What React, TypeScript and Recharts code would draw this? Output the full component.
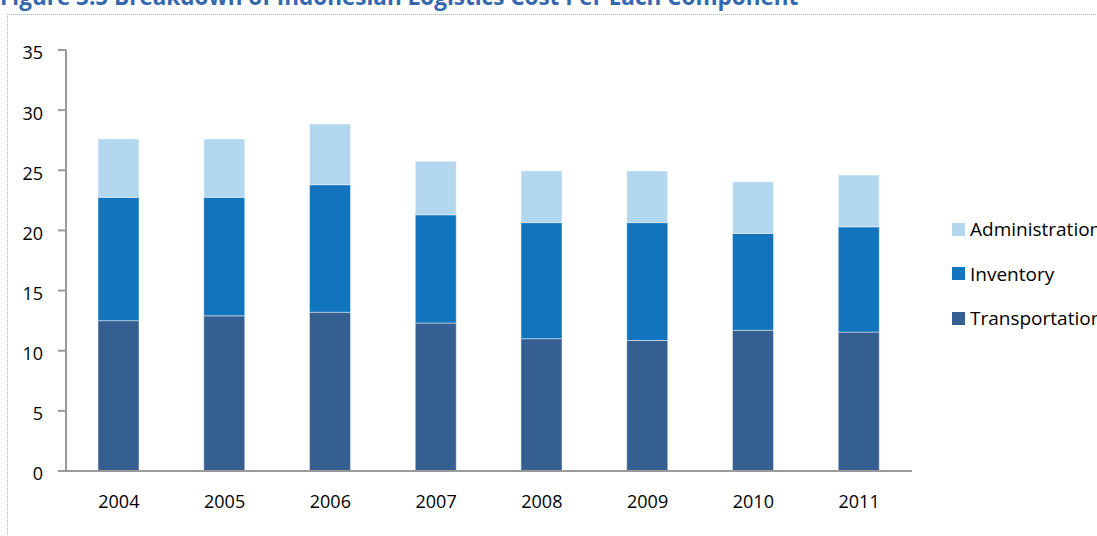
import React from "react";
import { BarChart, Bar, XAxis, YAxis } from "recharts";

const years = ["2004", "2005", "2006", "2007", "2008", "2009", "2010", "2011"];
const transportation = [12.5, 12.9, 13.2, 12.3, 11.0, 10.85, 11.7, 11.55];
const inventory = [10.25, 9.85, 10.6, 9.0, 9.65, 9.8, 8.05, 8.75];
const administration = [4.85, 4.85, 5.05, 4.45, 4.3, 4.3, 4.3, 4.3];
const yTicks = [0, 5, 10, 15, 20, 25, 30, 35];
const boundaryTicks = [0, 1, 2, 3, 4, 5, 6, 7, 8];

const seriesNames = ["Transportation", "Inventory", "Administration"];
const seriesColors = ["#355F91", "#1174BC", "#B3D7EE"];

const data = years.map((y, i) => ({
  year: y,
  Transportation: transportation[i],
  Inventory: inventory[i],
  Administration: administration[i],
}));

const FONT = "'Open Sans', 'Liberation Sans', sans-serif";
const AXIS = "#9a9a9a";

export default function App() {
  const legendOrder = [...seriesNames.keys()].reverse();
  return (
    <div style={{ position: "absolute", left: 0, top: 0, width: 1097, height: 536, overflow: "hidden", background: "#fff", fontFamily: FONT }}>
      <div
        style={{
          position: "absolute",
          left: 0,
          top: -14,
          fontSize: 22.5,
          lineHeight: "22px",
          fontWeight: 700,
          color: "#3468AE",
          whiteSpace: "nowrap",
        }}
      >
        Figure 3.5  Breakdown of Indonesian Logistics Cost Per Each Component
      </div>
      <div
        style={{
          position: "absolute",
          left: 7,
          top: 14,
          width: 1100,
          height: 530,
          borderTop: "1px dotted #9fb3d9",
          borderLeft: "1px dotted #9fb3d9",
        }}
      />
      <div style={{ position: "absolute", left: 0, top: 0 }}>
        <BarChart
          width={1097}
          height={536}
          data={data}
          barSize={41}
          margin={{ top: 50, right: 185, left: 6, bottom: 19 }}
        >
          <XAxis
            xAxisId="a_ticks"
            type="number"
            domain={[0, 8]}
            ticks={boundaryTicks}
            tick={false}
            tickSize={5}
            tickLine={{ stroke: AXIS, strokeWidth: 2 }}
            axisLine={{ stroke: AXIS, strokeWidth: 2 }}
            height={6}
          />
          <XAxis
            xAxisId="b_cat"
            dataKey="year"
            axisLine={false}
            tickLine={false}
            tickMargin={12}
            tick={{ fill: "#000", fontSize: 18, fontFamily: FONT }}
            height={40}
          />
          <YAxis
            domain={[0, 35]}
            ticks={yTicks}
            width={60}
            tickSize={8}
            tickMargin={15}
            tickLine={{ stroke: AXIS, strokeWidth: 2 }}
            axisLine={{ stroke: AXIS, strokeWidth: 2 }}
            tick={{ fill: "#000", fontSize: 18, fontFamily: FONT, dy: 3 }}
            allowDecimals={false}
          />
          {seriesNames.map((name, i) => (
            <Bar
              key={name}
              xAxisId="b_cat"
              dataKey={name}
              stackId="a"
              fill={seriesColors[i]}
              stroke="rgba(255,255,255,0.45)"
              strokeWidth={1}
              isAnimationActive={false}
            />
          ))}
        </BarChart>
      </div>
      {legendOrder.map((idx, row) => (
        <div
          key={seriesNames[idx]}
          style={{
            position: "absolute",
            left: 952,
            top: 229 + row * 44.5 - 12,
            height: 24,
            display: "flex",
            alignItems: "center",
            whiteSpace: "nowrap",
            fontSize: 19,
            color: "#000",
          }}
        >
          <span style={{ display: "inline-block", width: 13, height: 13, background: seriesColors[idx], marginRight: 5 }} />
          <span>{seriesNames[idx]}</span>
        </div>
      ))}
    </div>
  );
}
